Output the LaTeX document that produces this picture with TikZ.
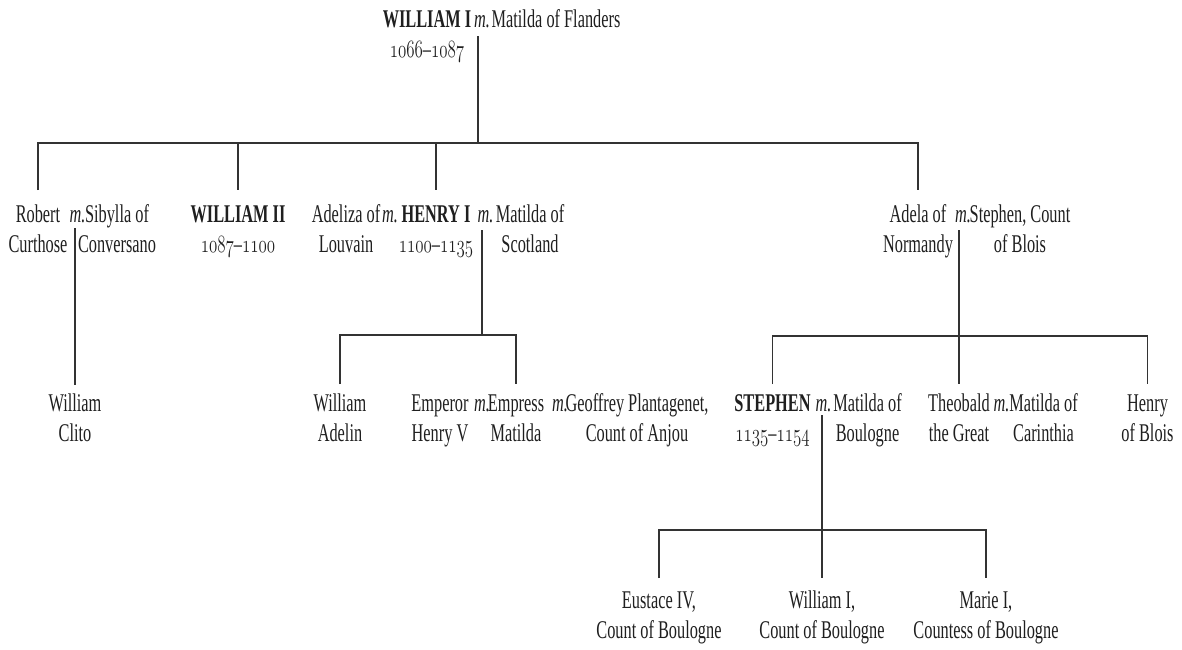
\documentclass[tikz,border=0pt]{standalone}
\usepackage{fontspec}
\usepackage{graphicx}
\setmainfont{Liberation Serif}[FakeStretch=0.64]
\definecolor{ink}{gray}{0.12}
\definecolor{rule}{gray}{0.2}
\newcommand\fs{\fontsize{25.5}{30}\selectfont}
\newcommand\osn[1]{\scalebox{0.68}[1]{\usefont{OML}{lmm}{m}{it}#1}}
\newcommand\yr[2]{\osn{#1}–\osn{#2}}
\begin{document}
\begin{tikzpicture}[x=1pt,y=-1pt,
  every node/.style={inner sep=0pt, outer sep=0pt, text=ink, font=\fs},
  per/.style={align=center, anchor=base, yshift=-30pt},
  one/.style={anchor=base},
  mar/.style={anchor=base, font=\fs\itshape},
  link/.style={draw=rule, line width=1.5pt}]
\fill[white] (0,0) rectangle (1182,649);
\useasboundingbox (0,0) rectangle (1182,649);

% generation 1
\node[per] (w1) at (427,27) {\textbf{WILLIAM I}\\\yr{1066}{1087}};
\node[mar] (m0) at (482,27) {m.};
\node[one] (mf) at (556,27) {Matilda of Flanders};

% generation 2
\node[per] (rob) at (38,222) {Robert\\Curthose};
\node[mar] (m1) at (77.5,222) {m.};
\node[per] (sib) at (117,222) {Sibylla of\\Conversano};
\node[per] (w2) at (238,222) {\textbf{WILLIAM II}\\\yr{1087}{1100}};
\node[per] (adz) at (346,222) {Adeliza of\\Louvain};
\node[mar] (m2) at (390,222) {m.};
\node[per] (h1) at (436,222) {\textbf{HENRY I}\\\yr{1100}{1135}};
\node[mar] (m3) at (485.5,222) {m.};
\node[per] (mts) at (530,222) {Matilda of\\Scotland};
\node[per] (ad) at (918,222) {Adela of\\Normandy};
\node[mar] (m4) at (963,222) {m.};
\node[per] (sb) at (1020,222) {Stephen, Count\\of Blois};

% generation 3
\node[per] (clito) at (75,411) {William\\Clito};
\node[per] (wa) at (340,411) {William\\Adelin};
\node[per] (hv) at (440,411) {Emperor\\Henry V};
\node[mar] (m5) at (482,411) {m.};
\node[per] (em) at (516,411) {Empress\\Matilda};
\node[mar] (m6) at (560,411) {m.};
\node[per] (gp) at (637,411) {Geoffrey Plantagenet,\\Count of Anjou};
\node[per] (st) at (772.5,411) {\textbf{STEPHEN}\\\yr{1135}{1154}};
\node[mar] (m7) at (823.5,411) {m.};
\node[per] (mb) at (867.5,411) {Matilda of\\Boulogne};
\node[per] (th) at (959,411) {Theobald\\the Great};
\node[mar] (m8) at (1001.5,411) {m.};
\node[per] (mc) at (1043.5,411) {Matilda of\\Carinthia};
\node[per] (hb) at (1147.5,411) {Henry\\of Blois};

% generation 4
\node[per] (eu) at (659,608) {Eustace IV,\\Count of Boulogne};
\node[per] (wb) at (822,608) {William I,\\Count of Boulogne};
\node[per] (ma) at (986,608) {Marie I,\\Countess of Boulogne};

% William I and Matilda
\coordinate (c0) at (478,36);
\coordinate (j0) at (478,143);
\draw[link] (c0) -- (j0);
\draw[link] ([yshift=62pt]rob.base) -- (rob.base |- j0) -- (ad.base |- j0) -- ([yshift=62pt]ad.base);
\draw[link] (w2.base |- j0) -- ([yshift=62pt]w2.base);
\draw[link] (h1.base |- j0) -- ([yshift=62pt]h1.base);

% Robert and Sibylla
\coordinate (c1) at (75,228);
\draw[link] (c1) -- ([yshift=56pt]clito.base);

% Henry I and Matilda
\coordinate (c2) at (482,230);
\coordinate (j2) at (482,335);
\draw[link] (c2) -- (j2);
\draw[link] ([yshift=57pt]wa.base) -- (wa.base |- j2) -- (em.base |- j2) -- ([yshift=57pt]em.base);

% Adela and Stephen
\coordinate (c3) at (959,230);
\coordinate (j3) at (959,336);
\draw[link] (c3) -- (j3);
\draw[link] ([yshift=57pt]st.base) -- (st.base |- j3) -- (hb.base |- j3) -- ([yshift=57pt]hb.base);
\draw[link] (th.base |- j3) -- ([yshift=57pt]th.base);

% Stephen and Matilda
\coordinate (c4) at (822,415);
\coordinate (j4) at (822,530);
\draw[link] (c4) -- (j4);
\draw[link] ([yshift=60pt]eu.base) -- (eu.base |- j4) -- (ma.base |- j4) -- ([yshift=60pt]ma.base);
\draw[link] (wb.base |- j4) -- ([yshift=60pt]wb.base);
\end{tikzpicture}
\end{document}
